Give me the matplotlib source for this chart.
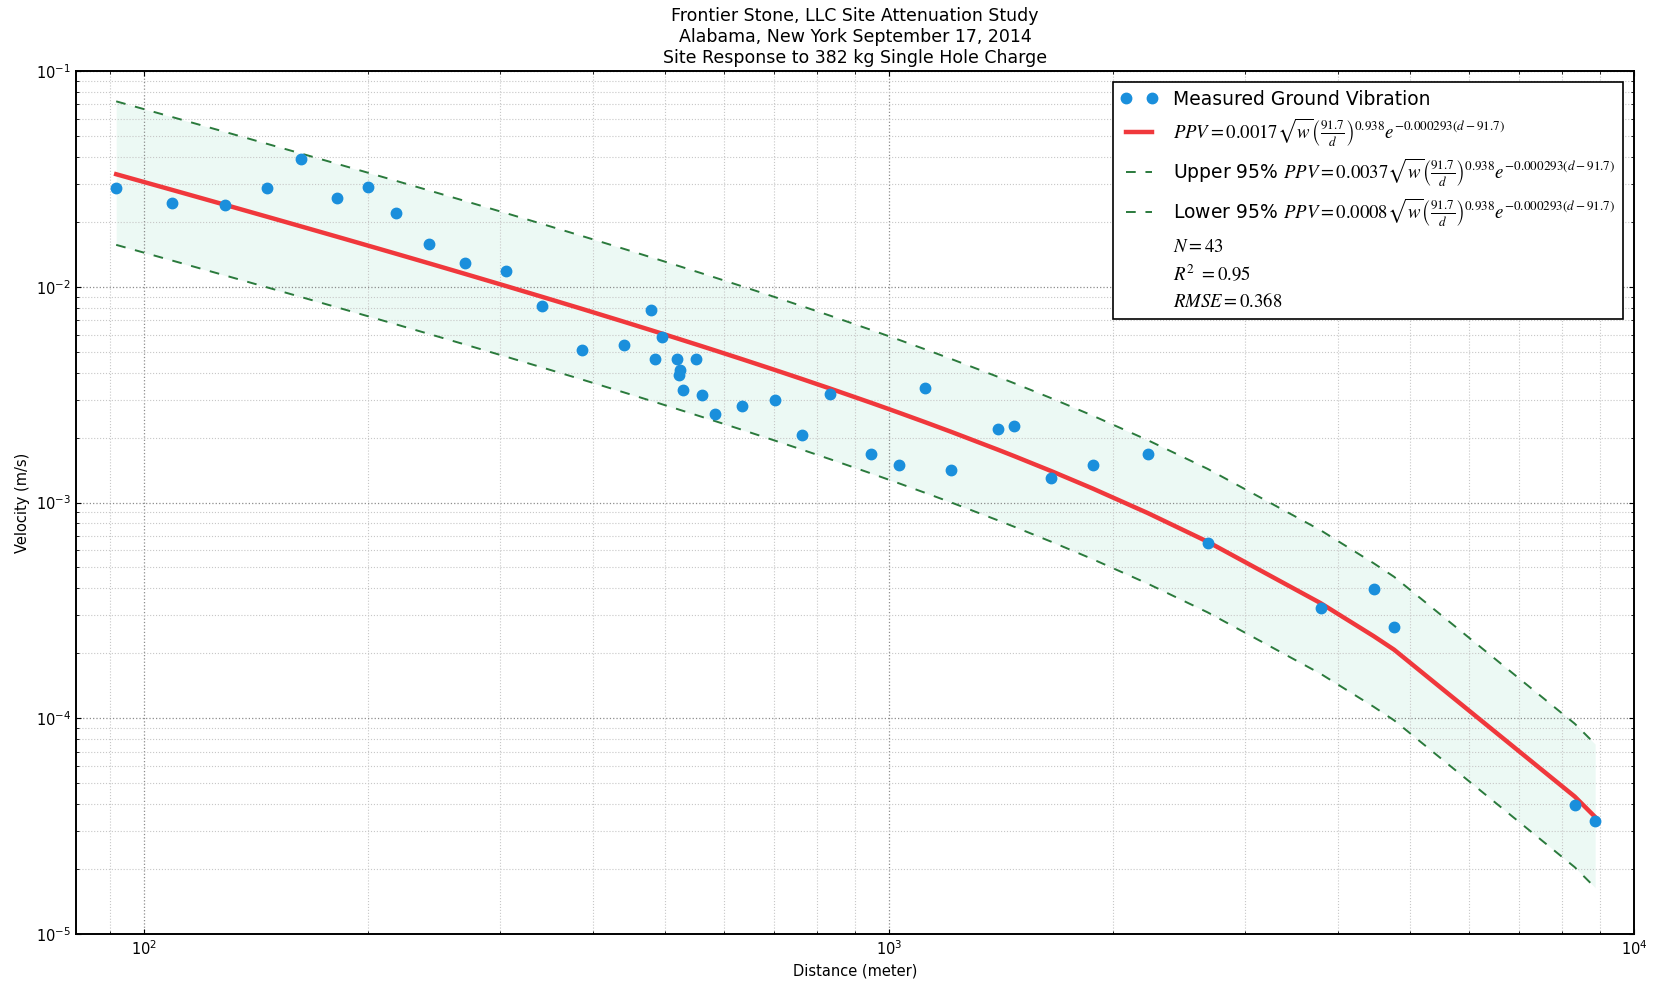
import numpy as np
import matplotlib
matplotlib.use("Agg")
import matplotlib.pyplot as plt
from matplotlib.lines import Line2D

plt.rcParams['font.family'] = ['DejaVu Sans']
plt.rcParams['mathtext.fontset'] = 'stix'

distance_m = [91.7, 109.0, 128.3, 146.2, 162.6, 181.2, 199.7, 217.5, 241.5, 269.3,
              305.5, 342.1, 387.1, 441.2, 479.7, 484.2, 495.8, 519.8, 523.5, 521.5,
              529.1, 551.3, 560.1, 583.0, 634.9, 703.1, 764.1, 832.5, 945.8, 1030.3,
              1118.8, 1211.2, 1399.3, 1473.1, 1651.7, 1876.0, 2224.0, 2677.6, 3794.7,
              4473.3, 4762.2, 8325.0, 8867.0]
velocity_ms = [0.02859, 0.02438, 0.02393, 0.02879, 0.03901, 0.02588, 0.02892, 0.02191,
               0.01574, 0.01285, 0.01183, 0.008179, 0.005093, 0.005370, 0.007834,
               0.004626, 0.005868, 0.004626, 0.004111, 0.003899, 0.003311, 0.004626,
               0.003151, 0.002572, 0.002810, 0.002997, 0.002055, 0.003194, 0.001678,
               0.001492, 0.003395, 0.001414, 0.002190, 0.002255, 0.001295, 0.001492,
               0.001678, 0.000646, 0.0003232, 0.0003958, 0.0002648, 3.957e-5, 3.345e-5]

# Fitted model parameters (from the legend)
charge_kg = 382.0
k_fit, k_upper, k_lower = 0.0017, 0.0037, 0.0008
d_ref = 91.7
beta = 0.938
alpha = 0.000293

d = np.sort(np.array(distance_m))

def ppv(k):
    return k * np.sqrt(charge_kg) * (d_ref / d) ** beta * np.exp(-alpha * (d - d_ref))

fit = ppv(k_fit)
upper = ppv(k_upper)
lower = ppv(k_lower)

fig = plt.figure(figsize=(16.64, 9.83), dpi=100)
ax = fig.add_axes([0.0457, 0.0498, 0.9363, 0.878])
ax.set_xscale('log')
ax.set_yscale('log')

eq = r'\sqrt{w}\left(\frac{91.7}{d}\right)^{0.938}e^{-0.000293(d-91.7)}$'
ax.fill_between(d, lower, upper, color='#e6f7f1', alpha=0.75, linewidth=0, zorder=1)
ax.plot(distance_m, velocity_ms, 'o', color='#1a8fdc', markeredgecolor='#1a8fdc',
        markersize=7.5, zorder=5, label='Measured Ground Vibration')
ax.plot(d, fit, '-', color='#f0383c', lw=3.2, zorder=4,
        label=r'$PPV=0.0017' + eq)
ax.plot(d, upper, '--', color='#2a7a3c', lw=1.4, dashes=(5, 5), zorder=3,
        label=r'Upper 95% $PPV=0.0037' + eq)
ax.plot(d, lower, '--', color='#2a7a3c', lw=1.4, dashes=(5, 5), zorder=3,
        label=r'Lower 95% $PPV=0.0008' + eq)

extra = [Line2D([], [], linestyle='none', marker='none', label=r'$N=43$'),
         Line2D([], [], linestyle='none', marker='none', label=r'$R^2\ =0.95$'),
         Line2D([], [], linestyle='none', marker='none', label=r'$RMSE=0.368$')]
handles, labels = ax.get_legend_handles_labels()
handles += extra
leg = ax.legend(handles=handles, loc='upper right', numpoints=2, fontsize=13.5,
                fancybox=False, framealpha=1, edgecolor='black', borderaxespad=0.6,
                handlelength=2.0, labelspacing=0.4)
leg.get_frame().set_linewidth(1.2)

ax.set_xlim(81, 10000)
ax.set_ylim(1e-5, 1e-1)
ax.grid(True, which='major', linestyle=':', color='0.55', lw=0.9)
ax.grid(True, which='minor', linestyle=':', color='0.78', lw=0.8)
ax.tick_params(which='both', direction='in', top=True, right=True, labelsize=10.5)
for s in ax.spines.values():
    s.set_linewidth(1.4)

ax.set_xlabel('Distance (meter)', fontsize=10.5)
ax.set_ylabel('Velocity (m/s)', fontsize=10.5)
ax.set_title('Frontier Stone, LLC Site Attenuation Study\n'
             'Alabama, New York September 17, 2014\n'
             'Site Response to 382 kg Single Hole Charge', fontsize=12.5, pad=6)

fig.savefig('out.png', dpi=100)
